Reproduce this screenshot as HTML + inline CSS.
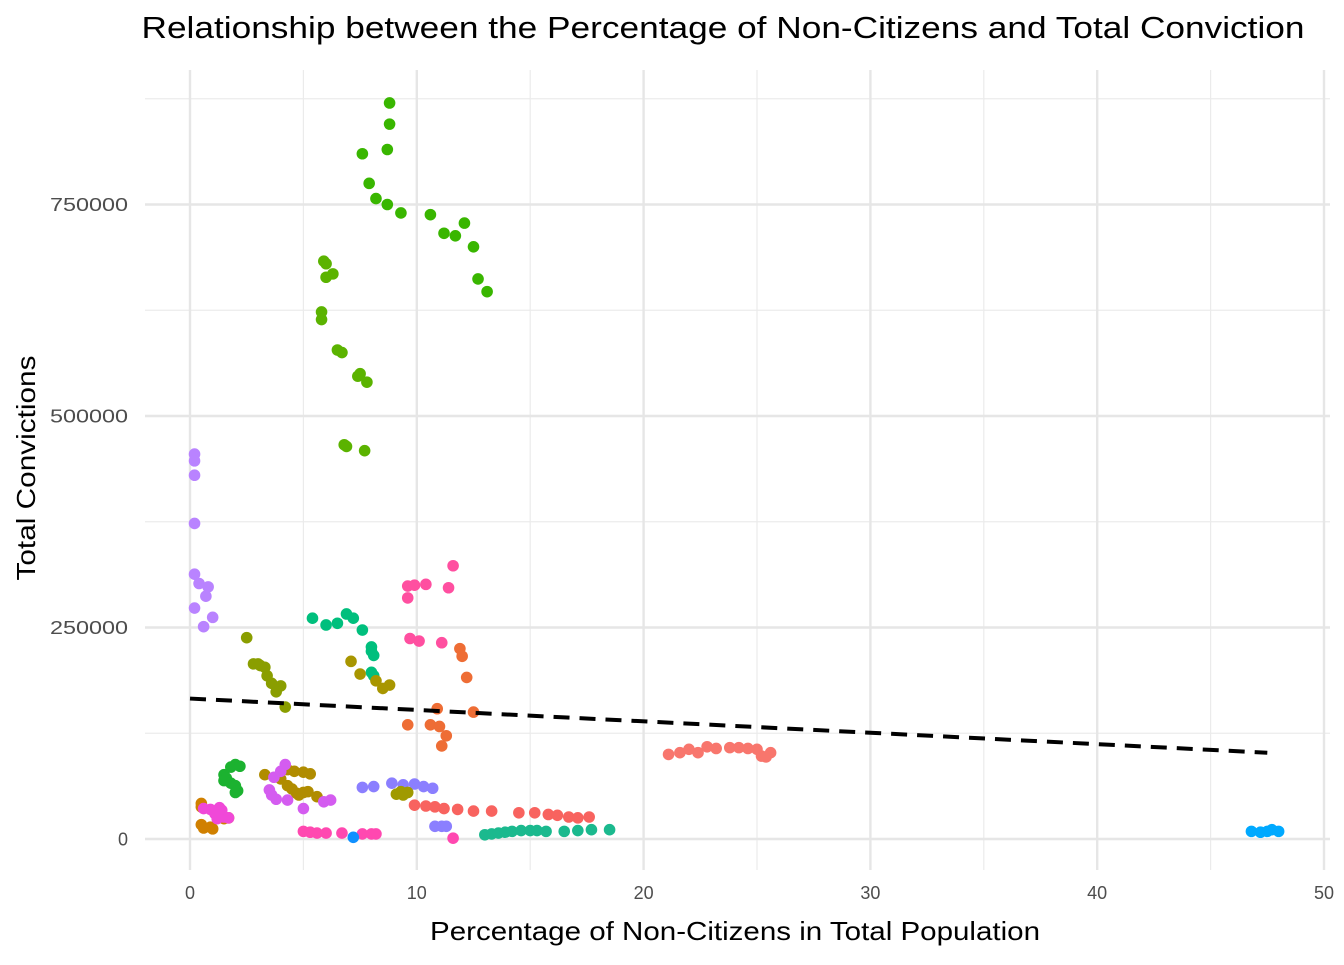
<!DOCTYPE html>
<html><head><meta charset="utf-8"><style>
body{margin:0;background:#fff;}
svg text{font-family:"Liberation Sans",Arial,sans-serif;}
</style></head><body>
<svg id="chart" width="1344" height="960" xmlns="http://www.w3.org/2000/svg">
<rect width="1344" height="960" fill="#fff"/>
<g id="grid"></g>
<g id="pts"></g>
<g id="trend"></g>
<g id="axes"></g>
<text x="723" y="38" font-size="31" text-anchor="middle" fill="#000" textLength="1163" lengthAdjust="spacingAndGlyphs">Relationship between the Percentage of Non-Citizens and Total Conviction</text>
<text x="735" y="940" font-size="26" text-anchor="middle" fill="#000" textLength="610" lengthAdjust="spacingAndGlyphs">Percentage of Non-Citizens in Total Population</text>
<text transform="translate(35,468) rotate(-90)" font-size="26" text-anchor="middle" fill="#000" textLength="225" lengthAdjust="spacingAndGlyphs">Total Convictions</text>
</svg>
<script>
const xTicks=[0,10,20,30,40,50];
const yTicks=[0,250000,500000,750000];
const yTickLabels=["0","250000","500000","750000"];
const trendX=[0,47.5];
const trendY=[166000,102000];
const groupColors=["#39B600","#5BB300","#B983FF","#FF4FA0","#EE6D35","#00BF7D","#8A9E00","#A89600","#F8766D","#F8635F","#1BB98E","#00A9FF","#1CB230","#B08C00","#D45CF0","#8B7FFF","#A09A00","#D08000","#F048D8","#FF48B0","#1090FF"];
const groupX=[
[8.8,8.8,8.7,7.6,7.9,8.2,8.7,9.3,10.6,12.1,11.2,11.7,12.5,12.7,13.1],
[5.9,6.0,6.3,6.0,5.8,5.8,6.5,6.7,7.5,7.4,7.8,6.8,6.9,7.7],
[0.2,0.2,0.2,0.2,0.2,0.4,0.8,0.7,0.2,1.0,0.6],
[9.6,9.9,10.4,11.6,11.4,9.6,9.7,10.1,11.1],
[11.9,12.0,12.2,10.9,12.5,9.6,10.6,11.0,11.3,11.1],
[5.4,6.9,7.2,6.0,6.5,7.6,8.0,8.0,8.1,8.0,8.1],
[2.5,2.8,3.0,3.1,3.3,3.4,3.6,4.0,3.8,4.2],
[7.1,7.5,8.2,8.8,8.5],
[21.1,21.6,22.0,22.4,22.8,23.2,23.8,24.2,24.6,25.0,25.2,25.4,25.6],
[9.9,10.4,10.8,11.2,11.8,12.5,13.3,14.5,15.2,15.8,16.2,16.7,17.1,17.6],
[13.0,13.3,13.6,13.9,14.2,14.6,15.0,15.3,15.7,16.5,17.1,17.7,18.5],
[46.8,47.2,47.5,47.7,48.0],
[1.5,2.0,1.8,2.2,1.6,1.5,1.8,2.0,2.1,2.0],
[3.3,4.3,4.6,5.0,5.3,4.0,4.3,4.5,4.7,5.0,5.2,5.6,4.8],
[4.2,4.0,3.7,3.5,3.6,3.8,4.3,5.0,5.9,6.2],
[7.6,8.1,8.9,9.4,9.9,10.3,10.7,10.8,11.1,11.3],
[9.1,9.3,9.6,9.4],
[0.5,0.5,0.5,0.6,0.9,1.0,1.7,1.5],
[0.6,0.9,1.3,1.4,1.1,1.3,1.5,1.7,1.2],
[5.0,5.3,5.6,6.0,6.7,7.6,8.0,8.2,11.6],
[7.2]];
const groupY=[
[870000,845000,815000,810000,775000,757000,750000,740000,738000,728000,716000,713000,700000,662000,647000],
[683000,680000,668000,664000,623000,614000,578000,575000,550000,547000,540000,466000,464000,459000],
[455000,447000,430000,373000,313000,302000,298000,287000,273000,262000,251000],
[299000,300000,301000,323000,297000,285000,237000,234000,232000],
[225000,216000,191000,154000,150000,135000,135000,133000,122000,110000],
[261000,266000,261000,253000,255000,247000,227000,222000,217000,197000,193000],
[238000,207000,207000,205000,203000,193000,184000,181000,174000,156000],
[210000,195000,187000,182000,178000],
[100000,102000,106000,102000,109000,107000,108000,108000,107000,106000,98000,97000,102000],
[40000,39000,38000,36000,35000,33000,33000,31000,31000,29000,28000,26000,25000,26000],
[5000,6000,7000,8000,9000,10000,10000,10000,9000,9000,10000,11000,11000],
[9000,8000,9000,11000,9000],
[76000,88000,85000,86000,72000,69000,66000,63000,57000,55000],
[76000,82000,80000,79000,77000,71000,63000,59000,54000,55000,56000,50000,52000],
[88000,80000,73000,58000,52000,47000,46000,36000,44000,46000],
[61000,62000,66000,64000,65000,62000,60000,15000,15000,15000],
[53000,56000,55000,52000],
[42000,38000,17000,13000,14000,12000,25000,24000],
[36000,35000,37000,34000,30000,28000,26000,25000,24000],
[9000,8000,7000,7000,7000,6000,6000,6000,1000],
[2000]];
const NS="http://www.w3.org/2000/svg";
const X0=145,X1=1330,Y0=70,Y1=870;
const sx=v=>190+v*22.68;
const sy=v=>839-v*0.000846;
function mk(tag,attrs,parent){const e=document.createElementNS(NS,tag);for(const k in attrs)e.setAttribute(k,attrs[k]);parent.appendChild(e);return e;}
const grid=document.getElementById('grid'),axes=document.getElementById('axes'),pts=document.getElementById('pts');
for(let i=0;i<xTicks.length-1;i++){const v=(xTicks[i]+xTicks[i+1])/2;const l=mk('line',{x1:sx(v),x2:sx(v),y1:Y0,y2:Y1,stroke:'#ebebeb','stroke-width':1.2},grid);}
for(let i=0;i<yTicks.length;i++){const v=yTicks[i]+125000;const l=mk('line',{x1:X0,x2:X1,y1:sy(v),y2:sy(v),stroke:'#ebebeb','stroke-width':1.2},grid);}
xTicks.forEach(v=>{const l=mk('line',{x1:sx(v),x2:sx(v),y1:Y0,y2:Y1,stroke:'#e6e6e6','stroke-width':2.4},grid);
const t=mk('text',{x:sx(v),y:899,'font-size':18,'text-anchor':'middle',fill:'#4d4d4d'},axes);t.textContent=v;});
yTicks.forEach((v,i)=>{const l=mk('line',{x1:X0,x2:X1,y1:sy(v),y2:sy(v),stroke:'#e6e6e6','stroke-width':2.4},grid);
const t=mk('text',{x:128,y:sy(v)+6.5,'font-size':18,'text-anchor':'end',fill:'#4d4d4d'},axes);t.textContent=yTickLabels[i];if(yTickLabels[i].length>1){t.setAttribute('textLength',13*yTickLabels[i].length);t.setAttribute('lengthAdjust','spacingAndGlyphs');}});
groupX.forEach((xs,g)=>xs.forEach((x,i)=>{const c=mk('circle',{cx:sx(x),cy:sy(groupY[g][i]),r:5.8,fill:groupColors[g]},pts);}));
const tl=mk('line',{x1:sx(trendX[0]),y1:sy(trendY[0]),x2:sx(trendX[1]),y2:sy(trendY[1]),stroke:'#000','stroke-width':4,'stroke-dasharray':'16 10'},document.getElementById('trend'));


</script>
</body></html>
